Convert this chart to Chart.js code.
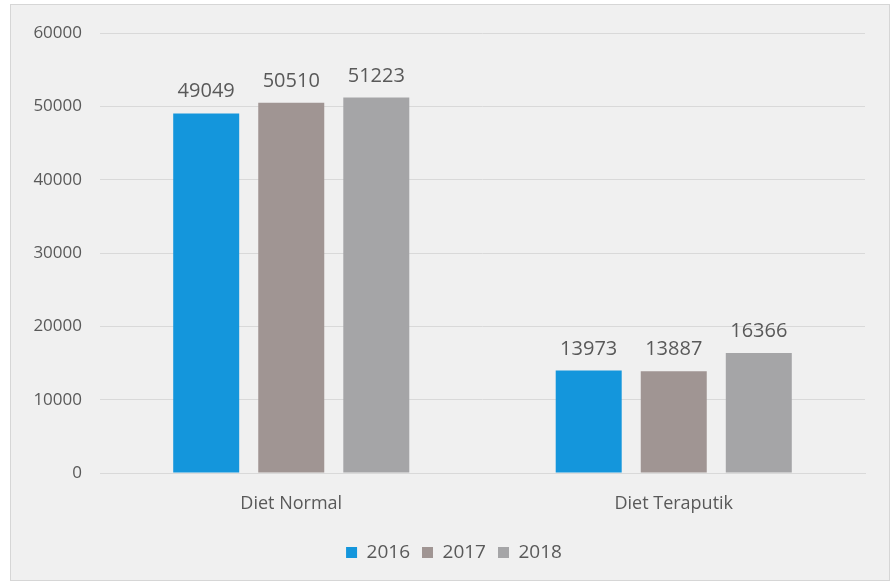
<!DOCTYPE html>
<html>
<head>
<meta charset="utf-8">
<script src="https://cdn.jsdelivr.net/npm/chart.js@4.4.1/dist/chart.umd.min.js"></script>
<style>
  html, body { margin: 0; padding: 0; background: #ffffff; }
  #panel {
    position: absolute; left: 10px; top: 4px;
    width: 880px; height: 577px;
    box-sizing: border-box;
    border: 1px solid #d6d6d6;
    background: #f0f0f0;
  }
  #panel canvas { display: block; }
</style>
</head>
<body>
<div id="panel"><canvas id="dietChart" width="878" height="575"></canvas></div>
<script>
// chart data
const categories = ['Diet Normal', 'Diet Teraputik'];
const years = ['2016', '2017', '2018'];
const values2016 = [49049, 13973];
const values2017 = [50510, 13887];
const values2018 = [51223, 16366];
const yTicks = [0, 10000, 20000, 30000, 40000, 50000, 60000];

const barColors = ['#1496dc', '#a09593', '#a5a5a7'];
const textColor = '#595959';
const fontFamily = '"Open Sans", "Noto Sans", sans-serif';

// draws the value above each bar
const valueLabels = {
  id: 'valueLabels',
  afterDatasetsDraw(chart) {
    const ctx = chart.ctx;
    ctx.save();
    ctx.font = '20px ' + fontFamily;
    ctx.fillStyle = textColor;
    ctx.textAlign = 'center';
    ctx.textBaseline = 'alphabetic';
    chart.data.datasets.forEach((ds, i) => {
      chart.getDatasetMeta(i).data.forEach((bar, j) => {
        ctx.fillText(String(ds.data[j]), bar.x, bar.y - 16);
      });
    });
    ctx.restore();
  }
};

// legend in the original sits a little right of the canvas centre
const legendShift = {
  id: 'legendShift',
  afterLayout(chart) {
    if (chart.legend) {
      chart.legend.left += 16;
      chart.legend.right += 16;
    }
  }
};

const seriesValues = [values2016, values2017, values2018];

new Chart(document.getElementById('dietChart'), {
  type: 'bar',
  data: {
    labels: categories,
    datasets: years.map((y, i) => ({
      label: y,
      data: seriesValues[i],
      backgroundColor: barColors[i],
      borderWidth: 0,
      barPercentage: 0.776,
      categoryPercentage: 0.667
    }))
  },
  options: {
    responsive: false,
    animation: false,
    layout: { padding: { top: 28, right: 24, bottom: 8, left: 0 } },
    scales: {
      x: {
        grid: { display: false, drawTicks: false },
        border: { display: true, color: '#d9d9d9' },
        ticks: { color: textColor, font: { family: fontFamily, size: 18 }, padding: 20 },
        afterFit(scale) { scale.height = 58; }
      },
      y: {
        min: 0,
        max: 60000,
        afterBuildTicks(scale) { scale.ticks = yTicks.map(v => ({ value: v })); },
        grid: { color: '#d9d9d9', drawTicks: false },
        border: { display: false },
        ticks: {
          color: textColor,
          font: { family: fontFamily, size: 17 },
          padding: 18,
          callback: (v) => String(v)
        },
        afterFit(scale) { scale.width = 89; }
      }
    },
    plugins: {
      legend: {
        position: 'bottom',
        labels: {
          color: textColor,
          font: { family: fontFamily, size: 19 },
          boxWidth: 11,
          boxHeight: 11,
          padding: 12
        }
      },
      tooltip: { enabled: false }
    }
  },
  plugins: [valueLabels, legendShift]
});
</script>
</body>
</html>
